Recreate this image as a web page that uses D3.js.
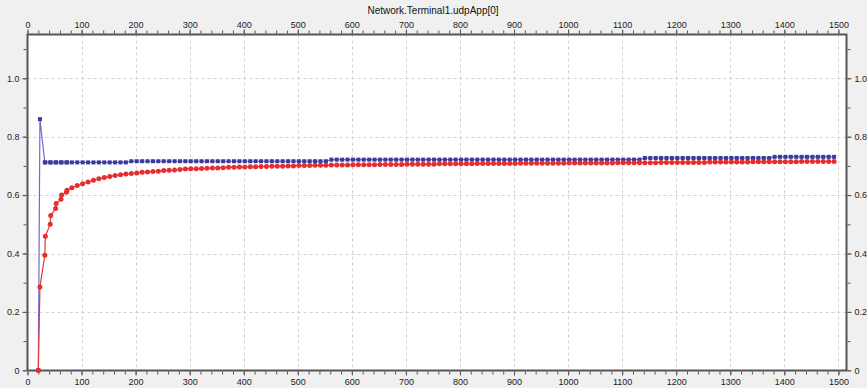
<!DOCTYPE html>
<html><head><meta charset="utf-8">
<script src="https://cdn.jsdelivr.net/npm/d3@7"></script>
<style>
html,body{margin:0;padding:0;background:#f0f0f0;}
text{font-family:"Liberation Sans",Arial,sans-serif;}
</style></head>
<body><svg id="c" width="867" height="388"></svg>
<script>
const title = "Network.Terminal1.udpApp[0]";
const xTicks = [0,100,200,300,400,500,600,700,800,900,1000,1100,1200,1300,1400,1500];
const yTicks = [0,0.2,0.4,0.6,0.8,1.0];
const yTickLabels = ["0","0.2","0.4","0.6","0.8","1.0"];
const times = [20,23,32,33,42,43,52,53,62,63,72,73,
82,92,102,112,122,132,142,152,162,172,182,192,202,212,222,232,242,252,262,272,282,292,302,312,322,332,342,352,362,372,382,392,402,412,422,432,442,452,462,472,482,492,502,512,522,532,542,552,562,572,582,592,602,612,622,632,642,652,662,672,682,692,702,712,722,732,742,752,762,772,782,792,802,812,822,832,842,852,862,872,882,892,902,912,922,932,942,952,962,972,982,992,1002,1012,1022,1032,1042,1052,1062,1072,1082,1092,1102,1112,1122,1132,1142,1152,1162,1172,1182,1192,1202,1212,1222,1232,1242,1252,1262,1272,1282,1292,1302,1312,1322,1332,1342,1352,1362,1372,1382,1392,1402,1412,1422,1432,1442,1452,1462,1472,1482,1492];
const blueValues = [0,0.86,0.712,0.712,0.712,0.712,0.712,0.712,0.712,0.712,0.712,0.712,
0.712,0.712,0.712,0.712,0.712,0.712,0.712,0.712,0.712,0.712,0.712,
0.716,0.716,0.716,0.716,0.716,0.716,0.716,0.716,0.716,0.716,0.716,0.716,0.716,0.716,0.716,0.716,0.716,0.716,0.716,0.716,0.716,0.716,0.716,0.716,0.716,0.716,0.716,0.716,0.716,0.716,0.716,0.716,0.716,0.716,0.716,0.716,0.716,
0.7215,0.7215,0.7215,0.7215,0.7215,0.7215,0.7215,0.7215,0.7215,0.7215,0.7215,0.7215,0.7215,0.7215,0.7215,0.7215,0.7215,0.7215,0.7215,0.7215,0.7215,0.7215,0.7215,0.7215,0.7215,0.7215,0.7215,0.7215,0.7215,0.7215,0.7215,0.7215,0.7215,0.7215,0.7215,0.7215,0.7215,0.7215,0.7215,0.7215,0.7215,0.7215,0.7215,0.7215,0.7215,0.7215,0.7215,0.7215,0.7215,0.7215,0.7215,0.7215,0.7215,0.7215,0.7215,0.7215,0.7215,0.7215,
0.727,0.727,0.727,0.727,0.727,0.727,0.727,0.727,0.727,0.727,0.727,0.727,0.727,0.727,0.727,0.727,0.727,0.727,0.727,0.727,0.727,0.727,0.727,0.727,
0.731,0.731,0.731,0.731,0.731,0.731,0.731,0.731,0.731,0.731,0.731,0.731];
const redValues = [0,0.285,0.394,0.459,0.500,0.530,0.554,0.571,0.586,0.600,0.610,0.617,
0.625,0.633,0.639,0.645,0.651,0.656,0.660,0.664,0.667,0.670,
0.672,0.674,0.676,0.678,0.679,0.681,0.682,0.684,0.685,0.686,
0.688,0.689,0.690,0.690,0.691,0.692,0.693,0.693,0.694,0.695,
0.695,0.696,0.696,0.697,0.697,0.698,0.698,0.699,0.699,0.699,
0.700,0.700,0.701,0.701,0.701,0.702,0.702,0.702,0.703,0.703,
0.703,0.703,0.704,0.704,0.704,0.704,0.704,0.705,0.705,0.705,
0.705,0.705,0.706,0.706,0.706,0.706,0.706,0.706,0.707,0.707,
0.707,0.707,0.707,0.707,0.707,0.708,0.708,0.708,0.708,0.708,
0.708,0.708,0.708,0.709,0.709,0.709,0.709,0.709,0.709,0.709,
0.709,0.709,0.710,0.710,0.710,0.710,0.710,0.710,0.710,0.710,
0.710,0.711,0.711,0.711,0.711,0.711,0.711,0.711,0.711,0.712,
0.712,0.712,0.712,0.712,0.712,0.712,0.712,0.712,0.713,0.713,
0.713,0.713,0.713,0.713,0.713,0.713,0.714,0.714,0.714,0.714,
0.714,0.714,0.714,0.714,0.714,0.715,0.715,0.715,0.715,0.715,
0.715,0.715];

const svg = d3.select("#c");
const L = 27.5, R = 846.5, T = 34.5, B = 370.5;
const x = d3.scaleLinear().domain([0,1515]).range([L,R]);
const y = d3.scaleLinear().domain([0,1.15]).range([370.3,34.5]);

svg.append("rect").attr("width",867).attr("height",388).attr("fill","#f0f0f0");
svg.append("rect").attr("x",L).attr("y",T).attr("width",R-L).attr("height",B-T).attr("fill","#ffffff");

// grid
const grid = svg.append("g").attr("stroke","#d2d2d2").attr("stroke-dasharray","3,3").attr("stroke-width",1);
xTicks.filter(d=>d>0).forEach(d=>{
  grid.append("line").attr("x1",Math.round(x(d))+0.5).attr("x2",Math.round(x(d))+0.5).attr("y1",T).attr("y2",B);
});
yTicks.filter(d=>d>0).forEach(d=>{
  grid.append("line").attr("y1",Math.round(y(d))+0.5).attr("y2",Math.round(y(d))+0.5).attr("x1",L).attr("x2",R);
});

// axes
const minorX = d3.range(0,1501,20);
const minorY = d3.range(0,1.101,0.1);
function styleAxis(g){
  g.select(".domain").remove();
  g.selectAll(".tick line").attr("stroke","#555");
  g.selectAll(".tick text").attr("fill","#222").style("font-size","9px").style("font-family","'Liberation Sans',Arial,sans-serif");
}
svg.append("g").attr("transform",`translate(0,${B+1})`)
  .call(d3.axisBottom(x).tickValues(minorX).tickSize(3).tickFormat("")).call(styleAxis);
svg.append("g").attr("transform",`translate(0,${B+1})`)
  .call(d3.axisBottom(x).tickValues(xTicks).tickSize(4).tickPadding(3).tickFormat(d3.format("d"))).call(styleAxis);
svg.append("g").attr("transform",`translate(0,${T-1})`)
  .call(d3.axisTop(x).tickValues(minorX).tickSize(3).tickFormat("")).call(styleAxis);
svg.append("g").attr("transform",`translate(0,${T-1})`)
  .call(d3.axisTop(x).tickValues(xTicks).tickSize(4).tickPadding(2).tickFormat(d3.format("d"))).call(styleAxis);
svg.append("g").attr("transform",`translate(${L-1},0)`)
  .call(d3.axisLeft(y).tickValues(minorY).tickSize(3).tickFormat("")).call(styleAxis);
svg.append("g").attr("transform",`translate(${L-1},0)`)
  .call(d3.axisLeft(y).tickValues(yTicks).tickSize(4).tickPadding(3).tickFormat((d,i)=>yTickLabels[i])).call(styleAxis);
svg.append("g").attr("transform",`translate(${R+1},0)`)
  .call(d3.axisRight(y).tickValues(minorY).tickSize(3).tickFormat("")).call(styleAxis);
svg.append("g").attr("transform",`translate(${R+1},0)`)
  .call(d3.axisRight(y).tickValues(yTicks).tickSize(4).tickPadding(3).tickFormat((d,i)=>yTickLabels[i])).call(styleAxis);

// frame
svg.append("rect").attr("x",L).attr("y",T).attr("width",R-L).attr("height",B-T)
  .attr("fill","none").attr("stroke","#555").attr("stroke-width",2);

// title
svg.append("text").attr("x",433).attr("y",14).attr("text-anchor","middle")
  .style("font-size","10px").attr("fill","#111").text(title);

// series
const blue = times.map((t,i)=>({t, v: blueValues[i]}));
const red = times.map((t,i)=>({t, v: redValues[i]}));
const line = d3.line().x(d=>x(d.t)).y(d=>y(d.v));
const plot = svg.append("g");
plot.append("path").datum(blue).attr("d",line).attr("fill","none").attr("stroke","#6c6cd0").attr("stroke-width",1.2);
plot.selectAll(".bm").data(blue).enter().append("rect")
  .attr("x",d=>x(d.t)-2).attr("y",d=>y(d.v)-2).attr("width",4).attr("height",4).attr("fill","#3a3a9c");
plot.append("path").datum(red).attr("d",line).attr("fill","none").attr("stroke","#e23a3a").attr("stroke-width",1.2);
plot.selectAll(".rm").data(red).enter().append("circle")
  .attr("cx",d=>x(d.t)).attr("cy",d=>y(d.v)).attr("r",2.5).attr("fill","#e62e2e");
</script></body></html>
